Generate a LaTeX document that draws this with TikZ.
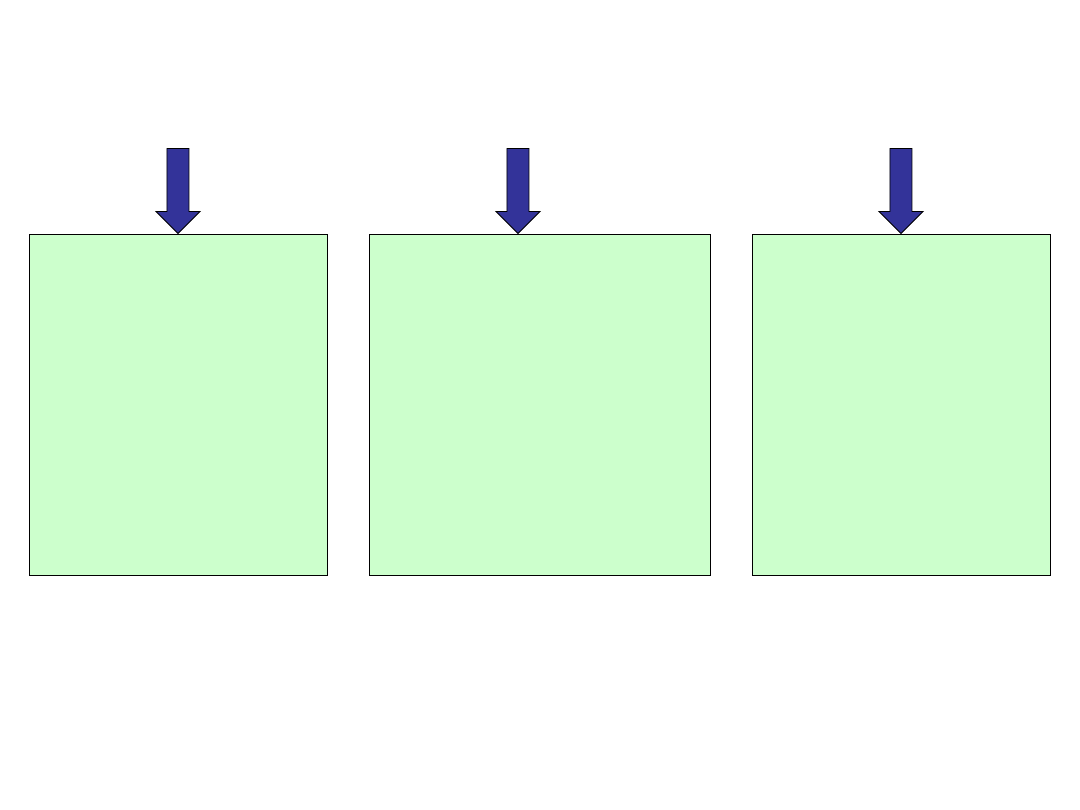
\documentclass[tikz,border=0pt]{standalone}
\usetikzlibrary{calc}

\definecolor{paleGreen}{RGB}{204,255,204}
\definecolor{arrowBlue}{RGB}{51,51,153}

\begin{document}
\begin{tikzpicture}[x=0.1mm,y=0.1mm,
  box/.style={draw=black,line width=0.25pt,fill=paleGreen,inner sep=0pt,minimum height=34.1mm},
  blockarrow/.style={draw=black,line width=0.25pt,fill=arrowBlue,line join=miter}]
  \useasboundingbox (0,0) rectangle (1080,810);
  %BOXES
  \node[box,minimum width=29.8mm](B1) at (178,405.5){};
  \node[box,minimum width=34.1mm](B2) at (539.5,405.5){};
  \node[box,minimum width=29.8mm](B3) at (901,405.5){};
  %ARROWS (tip on top edge of each box)
  \foreach \b/\dx in {B1/0,B2/-21.5,B3/0}{
    \coordinate (T) at ($(\b.north)+(\dx,0)$);
    \draw[blockarrow] (T) -- ($(T)+(-22,22)$) -- ($(T)+(-11,22)$) -- ($(T)+(-11,85)$)
      -- ($(T)+(11,85)$) -- ($(T)+(11,22)$) -- ($(T)+(22,22)$) -- cycle;
  }
\end{tikzpicture}
\end{document}
